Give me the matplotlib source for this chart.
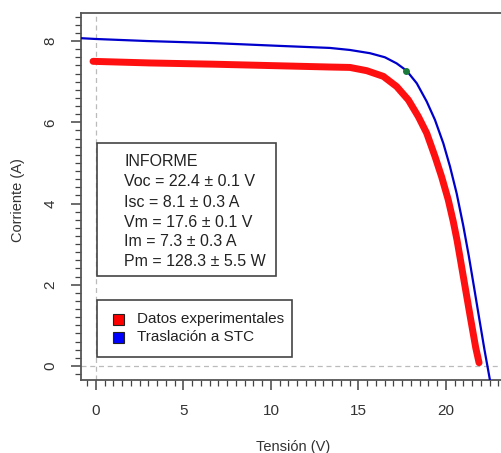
import matplotlib.pyplot as plt
from matplotlib.patches import Rectangle

plt.rcParams['font.family'] = ['Liberation Sans', 'DejaVu Sans']

# measured curve (Datos experimentales)
v_exp = [-0.17, 3.09, 6.69, 10.51, 13.37, 14.51, 15.47, 16.42, 17.18, 17.85,
         18.42, 18.90, 19.37, 19.75, 20.13, 20.42, 20.63, 20.8, 21.1, 21.4,
         21.7, 21.89]
i_exp = [7.50, 7.46, 7.43, 7.39, 7.36, 7.35, 7.27, 7.13, 6.88, 6.55,
         6.14, 5.73, 5.16, 4.66, 4.09, 3.55, 3.10, 2.68, 1.93, 1.18,
         0.45, 0.08]

# translated to STC
v_stc = [-0.86, 0.0, 2.91, 6.69, 10.51, 13.37, 14.51, 15.66, 16.51, 17.18,
         17.75, 18.33, 18.90, 19.37, 19.85, 20.23, 20.61, 20.99, 21.3, 21.6,
         21.9, 22.2, 22.51]
i_stc = [8.07, 8.05, 8.00, 7.95, 7.88, 7.83, 7.78, 7.70, 7.60, 7.45,
         7.27, 6.96, 6.51, 6.06, 5.48, 4.91, 4.25, 3.45, 2.72, 1.95,
         1.17, 0.40, -0.34]

# maximum power point
vm, im = 17.72, 7.27

informe = ["INFORME",
           "Voc = 22.4 \u00b1 0.1 V",
           "Isc = 8.1 \u00b1 0.3 A",
           "Vm = 17.6 \u00b1 0.1 V",
           "Im = 7.3 \u00b1 0.3 A",
           "Pm = 128.3 \u00b1 5.5 W"]
leyenda = ["Datos experimentales", "Traslaci\u00f3n a STC"]
colores = ["#ff0000", "#0000ff"]

W, H = 501, 453
fig = plt.figure(figsize=(W/100, H/100), dpi=100)

def px(x, y):
    return x/W, 1 - y/H

l, t = px(81, 13)
r, b = px(520, 380)
ax = fig.add_axes([l, b, r-l, t-b])
ax.set_xlim(-0.857, 24.23)
ax.set_ylim(-0.345, 8.69)

ax.axvline(0, color='#bbbbbb', ls=(0, (4, 3)), lw=0.9, zorder=1)
ax.axhline(0, color='#bbbbbb', ls=(0, (4, 3)), lw=0.9, zorder=1)

ax.plot(v_exp, i_exp, color='#ff1010', lw=5, solid_capstyle='round',
        solid_joinstyle='round', zorder=2)
ax.plot(v_stc, i_stc, color='#0000cc', lw=1.6, solid_joinstyle='round', zorder=3)
ax.plot([vm], [im], 'o', color='#1a7a3a', ms=4, zorder=4)

for s in ['left', 'bottom', 'top']:
    ax.spines[s].set_color('#555555')
    ax.spines[s].set_linewidth(1.3)
ax.spines['right'].set_visible(False)

ax.set_xticks([0, 5, 10, 15, 20])
ax.set_xticks([x*0.5 for x in range(-1, 48)], minor=True)
ax.set_yticks([0, 2, 4, 6, 8])
ax.set_yticks([y*0.2 for y in range(-1, 44)], minor=True)
ax.tick_params(which='major', length=7, width=1.1, color='#444444',
               labelsize=11, labelcolor='#333333', pad=10)
ax.tick_params(which='minor', length=4, width=0.9, color='#444444')
for lab in ax.get_yticklabels():
    lab.set_rotation(90)
    lab.set_va('center')

fig.text(*px(293, 447), "Tensi\u00f3n (V)", ha='center', va='center',
         fontsize=10.5, color='#333333')
fig.text(*px(18, 200), "Corriente (A)", ha='center', va='center',
         rotation=90, fontsize=10.5, color='#333333')

# info box
x0, y0 = px(97, 276)
x1, y1 = px(276, 143)
fig.add_artist(Rectangle((x0, y0), x1-x0, y1-y0, transform=fig.transFigure,
                         fill=True, facecolor='white', edgecolor='#444444', lw=1.2))
for k, s in enumerate(informe):
    fig.text(*px(124, 162 + 20*k), s, ha='left', va='center', fontsize=11.5,
             color='#222222')

# legend box
x0, y0 = px(97, 357)
x1, y1 = px(292, 300)
fig.add_artist(Rectangle((x0, y0), x1-x0, y1-y0, transform=fig.transFigure,
                         fill=True, facecolor='white', edgecolor='#444444', lw=1.2))
for k, (s, c) in enumerate(zip(leyenda, colores)):
    yy = 319 + 18*k
    sx, sy = px(113, yy + 5.5)
    fig.add_artist(Rectangle((sx, sy), 11/W, 11/H, transform=fig.transFigure,
                             facecolor=c, edgecolor='#222222', lw=0.8))
    fig.text(*px(137, yy), s, ha='left', va='center', fontsize=11,
             color='#222222')

fig.savefig('out.png', dpi=100)
